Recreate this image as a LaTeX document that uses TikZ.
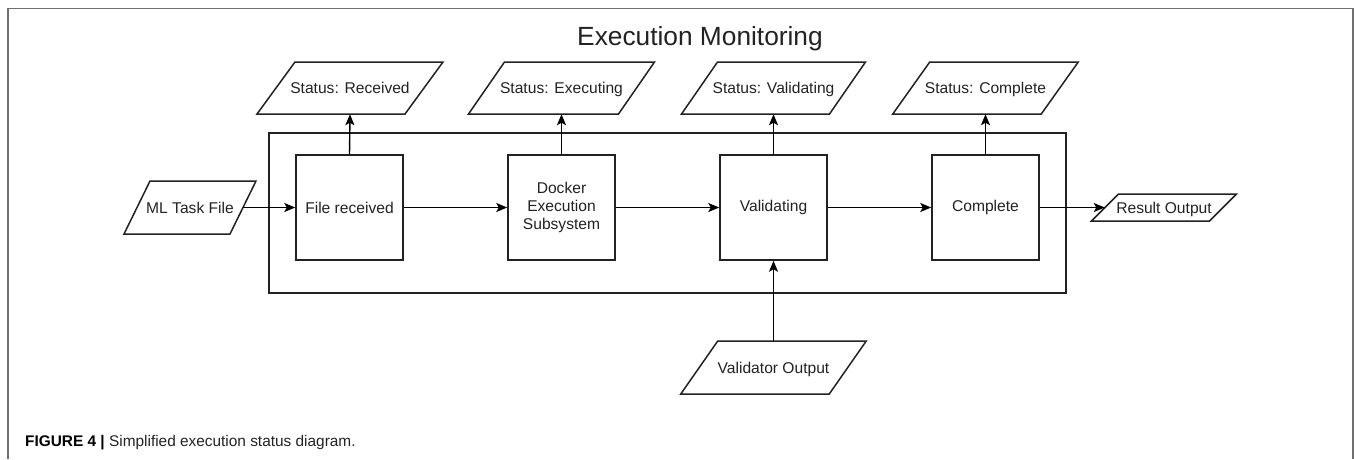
\documentclass[tikz,border=0pt]{standalone}
\usepackage{fontspec}
\setmainfont{Liberation Sans}
\usetikzlibrary{arrows.meta,calc}
\definecolor{frame}{HTML}{707070}
\definecolor{ink}{HTML}{222222}
\tikzset{
  shp/.style={draw=ink, line width=1.5pt, line join=miter},
  boxn/.style={shp, minimum width=107pt, minimum height=105pt, inner sep=0pt,
    font=\fontsize{15.6}{18.3}\selectfont, text=ink, align=center},
  plbl/.style={inner sep=0pt, font=\fontsize{15.6}{18}\selectfont, text=ink,
    text height=11.2pt, text depth=0pt},
  conn/.style={draw=black, line width=1.4pt, -{Stealth[length=11pt,width=9pt,inset=2.5pt]}},
}
\newcommand\paral[7]{%
  \node[plbl, minimum width=#4pt, minimum height=#5pt] (#1) at (#2,#3) {#7};
  \draw[shp] ({#2-#4/2+#6/2},{#3-#5/2}) -- ({#2+#4/2+#6/2},{#3-#5/2})
    -- ({#2+#4/2-#6/2},{#3+#5/2}) -- ({#2-#4/2-#6/2},{#3+#5/2}) -- cycle;}
\begin{document}
\begin{tikzpicture}[x=1pt,y=-1pt]
\useasboundingbox (0,0) rectangle (1354,459);
% outer frame
\draw[frame, line width=1.5pt] (8,459) -- (8,8.5) -- (1353,8.5) -- (1353,459);
% title
\node[anchor=base, inner sep=0pt, font=\fontsize{26.3}{30}\selectfont, text=ink] (title) at (700,45) {Execution Monitoring};
% container
\draw[shp] (269,133) rectangle (1066,293);
% boxes
\node[boxn] (fr) at (349.5,207.5) {File received};
\node[boxn] (dk) at (561.5,207.5) {Docker\\Execution\\Subsystem};
\node[boxn] (va) at (773.5,207.5) {Validating};
\node[boxn] (co) at (985.5,207.5) {Complete};
% parallelograms
\paral{sr}{350}{88}{148}{52}{38}{Status: Received}
\paral{se}{561.5}{88}{150}{52}{36}{Status: Executing}
\paral{sv}{773.5}{88}{148}{52}{36}{Status: Validating}
\paral{sc}{985.5}{88}{148.5}{52}{37}{Status: Complete}
\paral{ml}{190}{207.5}{106}{53}{26}{ML Task File}
\paral{ro}{1164}{207.5}{118}{27}{27}{Result Output}
\paral{vo}{773.5}{367.5}{148.5}{53}{37}{Validator Output}
% connectors
\draw[conn] (ml.east) -- (fr.west);
\draw[conn] (fr.east) -- (dk.west);
\draw[conn] (dk.east) -- (va.west);
\draw[conn] (va.east) -- (co.west);
\draw[conn] (co.east) -- (ro.west);
\draw[conn] (fr.north) -- (sr.south);
\draw[conn] (dk.north) -- (se.south);
\draw[conn] (va.north) -- (sv.south);
\draw[conn] (co.north) -- (sc.south);
\draw[conn] (vo.north) -- (va.south);
% caption
\node[anchor=base west, inner sep=0pt, font=\fontsize{15.4}{18}\selectfont] (cap) at (25,446)
  {\textbf{FIGURE 4 |} \textcolor{ink}{Simplified execution status diagram.}};
\end{tikzpicture}
\end{document}
